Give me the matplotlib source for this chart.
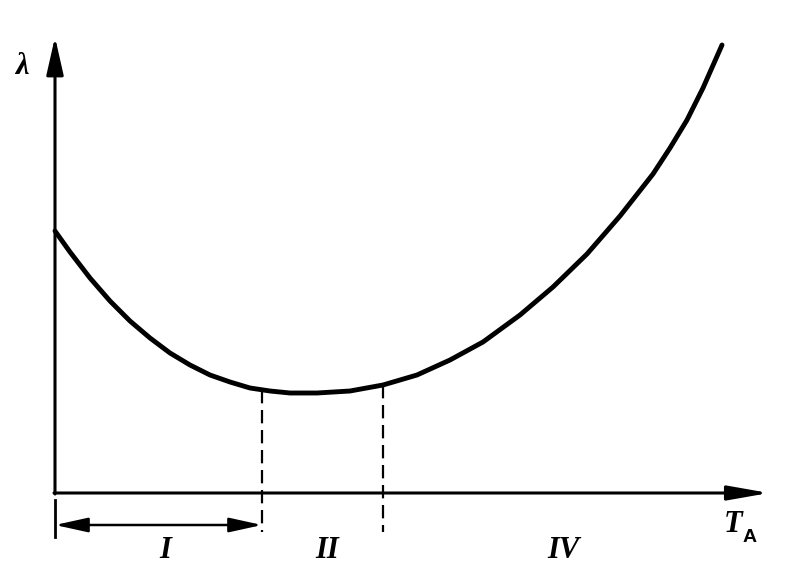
import numpy as np
import matplotlib
matplotlib.use("Agg")
import matplotlib.pyplot as plt

# curve (arbitrary units, origin at the axes corner)
t_a = [0.00, 0.15, 0.35, 0.55, 0.75, 0.95, 1.15, 1.35, 1.55, 1.75, 1.95,
       2.15, 2.35, 2.62, 2.95, 3.28, 3.62, 3.95, 4.28, 4.65, 4.98, 5.32,
       5.65, 5.98, 6.15, 6.32, 6.48, 6.67]
lam = [2.62, 2.41, 2.15, 1.92, 1.72, 1.55, 1.40, 1.28, 1.18, 1.11, 1.05,
       1.02, 1.00, 1.00, 1.02, 1.08, 1.18, 1.33, 1.51, 1.78, 2.06, 2.39,
       2.77, 3.19, 3.45, 3.73, 4.05, 4.48]

# zone borders (dashed lines) and zone labels
borders = [2.07, 3.28]
zone_names = ["I", "II", "IV"]
zone_x = [1.10, 2.72, 5.08]

fig = plt.figure(figsize=(7.87, 5.79), dpi=100)
ax = fig.add_axes([0, 0, 1, 1])
ax.set_xlim(-0.55, 7.32)
ax.set_ylim(-0.86, 4.93)
ax.axis("off")

ax.plot(t_a, lam, color="black", lw=3.5, solid_capstyle="round",
        solid_joinstyle="round")

# axes with arrows
ax.annotate("", xy=(0, 4.56), xytext=(0, -0.01),
            arrowprops=dict(arrowstyle="-|>,head_length=1.15,head_width=0.26",
                            lw=2.2, color="black", mutation_scale=20,
                            shrinkA=0, shrinkB=0))
ax.annotate("", xy=(7.14, 0), xytext=(-0.01, 0),
            arrowprops=dict(arrowstyle="-|>,head_length=1.25,head_width=0.22",
                            lw=2.2, color="black", mutation_scale=20,
                            shrinkA=0, shrinkB=0))

# dashed borders
for b in borders:
    y_top = np.interp(b, t_a, lam)
    ax.plot([b, b], [y_top, -0.39], color="black", lw=1.6,
            linestyle=(0, (6, 3)))

# span of zone I
ax.plot([0, 0], [-0.07, -0.44], color="black", lw=2.0)
ax.annotate("", xy=(0.0, -0.32), xytext=(borders[0], -0.32),
            arrowprops=dict(arrowstyle="<|-|>,head_length=1.0,head_width=0.22",
                            lw=1.8, color="black", mutation_scale=20,
                            shrinkA=0, shrinkB=0))

font = dict(family="Liberation Serif", style="italic", weight="bold",
            fontsize=22, color="black")
for name, x in zip(zone_names, zone_x):
    ax.text(x, -0.57, name, ha="center", va="center", **font)

ax.text(-0.33, 4.26, "λ", ha="center", va="center", **font)
ax.text(6.78, -0.31, "T", ha="center", va="center", **font)
ax.text(6.95, -0.45, "A", ha="center", va="center",
        family="Liberation Sans", weight="bold", fontsize=14, color="black")

fig.savefig("out.png", dpi=100, facecolor="white")
